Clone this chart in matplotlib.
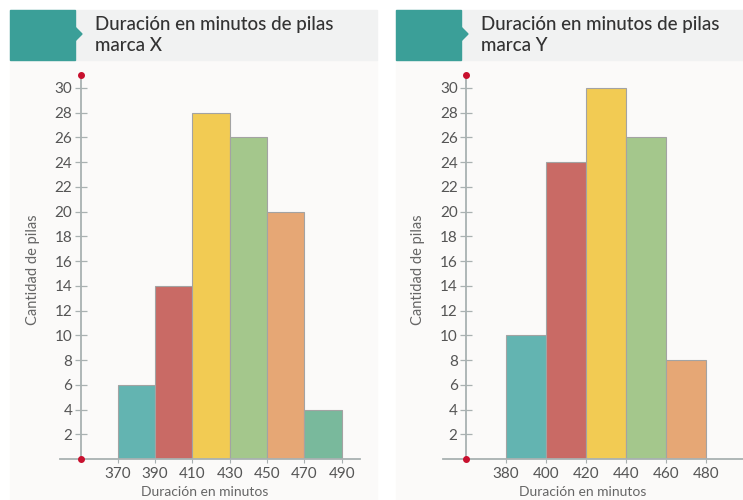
import matplotlib
matplotlib.use("Agg")
import matplotlib.pyplot as plt
from matplotlib.patches import Rectangle, Polygon

plt.rcParams['font.family'] = ['Lato', 'DejaVu Sans']

# histogram data, bin edges and counts
edges_x = [370, 390, 410, 430, 450, 470, 490]
counts_x = [6, 14, 28, 26, 20, 4]
colors_x = ['#63b4b1', '#c96a65', '#f2cb53', '#a4c78c', '#e6a775', '#79b99c']
title_x = "Duración en minutos de pilas\nmarca X"

edges_y = [380, 400, 420, 440, 460, 480]
counts_y = [10, 24, 30, 26, 8]
colors_y = ['#63b4b1', '#c96a65', '#f2cb53', '#a4c78c', '#e6a775']
title_y = "Duración en minutos de pilas\nmarca Y"

yticks = list(range(2, 31, 2))

W, H = 743, 500
fig = plt.figure(figsize=(W / 100, H / 100), dpi=100)
fig.patch.set_facecolor('white')


def px(x, y):
    # pixel (from top-left) -> figure fraction
    return x / W, 1 - y / H


def header(x0, x1, title):
    # light panel, grey title band and teal tab with a small arrow
    fig.patches.append(Rectangle(px(x0, 500), (x1 - x0) / W, 440 / H,
                                 transform=fig.transFigure, color='#fbfaf9', zorder=0))
    fig.patches.append(Rectangle(px(x0, 60), (x1 - x0) / W, 50 / H,
                                 transform=fig.transFigure, color='#f1f2f2', zorder=0))
    fig.patches.append(Rectangle(px(x0, 60), 65 / W, 50 / H,
                                 transform=fig.transFigure, color='#3b9f98', zorder=1))
    tip = [px(x0 + 65, 27), px(x0 + 72, 34), px(x0 + 65, 41)]
    fig.patches.append(Polygon(tip, closed=True, transform=fig.transFigure,
                               color='#3b9f98', zorder=1))
    tx, ty = px(x0 + 85, 35)
    fig.text(tx, ty, title, fontsize=13.5, color='#333333', va='center', ha='left',
             linespacing=1.3, fontweight='medium')


def histo(rect, xlim, yaxis_at, edges, counts, colors):
    ax = fig.add_axes(rect)
    ax.set_zorder(3)
    ax.set_facecolor('none')
    lefts = edges[:-1]
    widths = [b - a for a, b in zip(edges[:-1], edges[1:])]
    ax.bar(lefts, counts, width=widths, align='edge', color=colors,
           edgecolor='#a3a3a3', linewidth=0.8, zorder=2)
    ax.set_xlim(*xlim)
    ax.set_ylim(0, 31.6)
    for s in ['top', 'right']:
        ax.spines[s].set_visible(False)
    ax.spines['left'].set_position(('data', yaxis_at))
    ax.spines['left'].set_color('#a9b1b1')
    ax.spines['left'].set_bounds(0, 31.05)
    ax.spines['bottom'].set_color('#a9b1b1')
    ax.spines['left'].set_linewidth(1.3)
    ax.spines['bottom'].set_linewidth(1.3)
    ax.set_yticks(yticks)
    ax.set_xticks(edges)
    ax.tick_params(axis='y', direction='inout', length=8, width=0.9, color='#a9b1b1',
                   labelsize=11, labelcolor='#555555', pad=2)
    ax.tick_params(axis='x', direction='out', length=3, width=0.8, color='#a9b1b1',
                   labelsize=11, labelcolor='#555555', pad=3)
    ax.plot([yaxis_at, yaxis_at], [0, 31.05], 'o', color='#c8102e', ms=4,
            clip_on=False, zorder=5)
    return ax


header(10, 377, title_x)
header(396, 743, title_y)

# left panel: 60..360 px wide, baseline at 459 px
histo([60 / W, 41 / H, 300 / W, 31.6 * 12.37 / H], (339, 499.8), 350,
      edges_x, counts_x, colors_x)
# right panel: 443..743 px
histo([443 / W, 41 / H, 300 / W, 31.6 * 12.37 / H], (348.5, 498.5), 360,
      edges_y, counts_y, colors_y)

for x, xc in [(33, 205), (418, 583)]:
    fx, fy = px(x, 270)
    fig.text(fx, fy, "Cantidad de pilas", rotation=90, fontsize=10.5, color='#666666',
             ha='center', va='center')
    fx, fy = px(xc, 492)
    fig.text(fx, fy, "Duración en minutos", fontsize=10, color='#666666',
             ha='center', va='center')

fig.savefig('out.png', dpi=100)
